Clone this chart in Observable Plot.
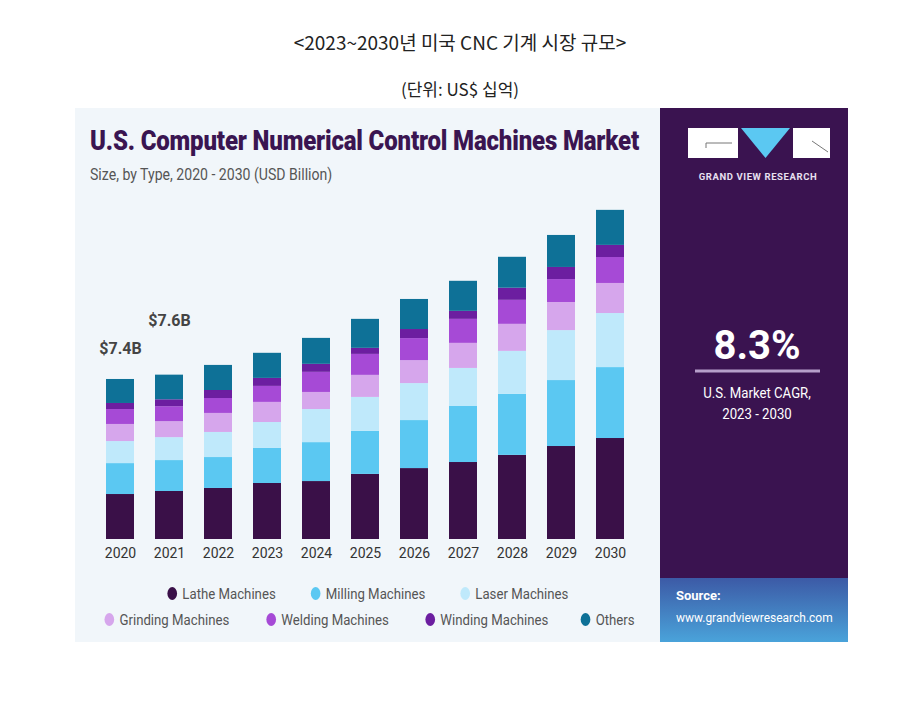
<!DOCTYPE html>
<html>
<head>
<meta charset="utf-8">
<script src="https://cdn.jsdelivr.net/npm/d3@7"></script>
<script src="https://cdn.jsdelivr.net/npm/@observablehq/plot@0.6"></script>
<style>
  html, body { margin: 0; padding: 0; background: #ffffff; }
  body { width: 903px; height: 702px; position: relative; overflow: hidden; font-family: "Noto Sans", sans-serif; }
  .abs { position: absolute; white-space: nowrap; }
  #title { left: 0; width: 920px; top: 28px; text-align: center; font-family: "Noto Sans CJK KR", sans-serif; font-size: 19px; color: #222; }
  #subtitle { left: 0; width: 920px; top: 76px; text-align: center; font-family: "Noto Sans CJK KR", sans-serif; font-size: 17px; color: #222; }
  #chart { left: 75px; top: 108px; }
  #ctitle { left: 90px; top: 125px; font-family: Roboto, sans-serif; font-weight: 900; font-size: 27px; color: #3a1551; transform-origin: left top; transform: scaleX(0.89); letter-spacing: -0.2px; }
  #csub { left: 90px; top: 165px; font-family: Roboto, sans-serif; font-size: 16px; color: #555; transform-origin: left top; transform: scaleX(0.88); }
  .legrow { left: 75px; width: 585px; text-align: center; font-family: Roboto, sans-serif; font-size: 15px; color: #555; }
  .legitem { display: inline-block; margin: 0 10px; transform: scaleX(0.88); }
  .dot { display: inline-block; width: 11px; height: 13px; border-radius: 50%; margin-right: 6px; vertical-align: -1px; }
  #side { left: 660px; top: 108px; width: 188px; height: 534px; background: #3a1350; }
  #src { left: 660px; top: 578px; width: 188px; height: 64px; background: linear-gradient(#3c5aa6, #4aa3da); }
</style>
</head>
<body>
<div id="title" class="abs">&lt;2023~2030년 미국 CNC 기계 시장 규모&gt;</div>
<div id="subtitle" class="abs">(단위: US$ 십억)</div>
<div id="chart" class="abs"></div>
<div id="ctitle" class="abs">U.S. Computer Numerical Control Machines Market</div>
<div id="csub" class="abs">Size, by Type, 2020 - 2030 (USD Billion)</div>
<div id="side" class="abs"></div>
<div id="src" class="abs"></div>
<svg class="abs" style="left:660px;top:108px" width="188" height="470">
  <rect x="28" y="20" width="50" height="30" fill="#ffffff"/>
  <polyline points="46,40 46,35 72,35" fill="none" stroke="#777" stroke-width="1"/>
  <polygon points="81,20 130,20 105.5,50" fill="#5bc8f2"/>
  <rect x="133" y="20" width="37" height="30" fill="#ffffff"/>
  <polyline points="152,33 168,44" fill="none" stroke="#777" stroke-width="1"/>
  <text x="98" y="72" text-anchor="middle" fill="#e8e0f0" font-family="Roboto, sans-serif" font-weight="700" font-size="9.5" letter-spacing="0.6">GRAND VIEW RESEARCH</text>
  <text x="97" y="251" text-anchor="middle" fill="#ffffff" font-family="Roboto, sans-serif" font-weight="700" font-size="40">8.3%</text>
  <line x1="35" x2="160" y1="263" y2="263" stroke="#b69fca" stroke-width="3"/>
  <text x="97" y="290" text-anchor="middle" fill="#ffffff" font-family="Roboto, sans-serif" font-size="15" transform="translate(97,0) scale(0.88,1) translate(-97,0)">U.S. Market CAGR,</text>
  <text x="97" y="311" text-anchor="middle" fill="#ffffff" font-family="Roboto, sans-serif" font-size="15" transform="translate(97,0) scale(0.88,1) translate(-97,0)">2023 - 2030</text>
</svg>
<div class="abs" style="left:676px;top:588px;font-family:Roboto,sans-serif;font-weight:700;font-size:13px;color:#fff;">Source:</div>
<div class="abs" style="left:676px;top:610px;font-family:Roboto,sans-serif;font-size:13px;color:#fff;transform-origin:left top;transform:scaleX(0.92);">www.grandviewresearch.com</div>
<div id="legend"></div>
<script>
const years = ["2020","2021","2022","2023","2024","2025","2026","2027","2028","2029","2030"];
const types = ["Lathe Machines","Milling Machines","Laser Machines","Grinding Machines","Welding Machines","Winding Machines","Others"];
const colors = ["#3a1048","#5bc8f2","#bfe9fb","#d6a6ec","#a64ad6","#6c1ea0","#0e7197"];
const lathe    = [2.08, 2.22, 2.36, 2.59, 2.68, 3.01, 3.28, 3.56, 3.89, 4.30, 4.67];
const milling  = [1.43, 1.43, 1.43, 1.62, 1.80, 1.99, 2.22, 2.59, 2.82, 3.05, 3.28];
const laser    = [1.02, 1.06, 1.16, 1.20, 1.53, 1.57, 1.71, 1.76, 1.99, 2.31, 2.50];
const grinding = [0.79, 0.74, 0.88, 0.93, 0.79, 1.02, 1.06, 1.16, 1.25, 1.30, 1.39];
const welding  = [0.69, 0.69, 0.69, 0.74, 0.93, 0.97, 1.02, 1.11, 1.11, 1.06, 1.20];
const winding  = [0.28, 0.32, 0.37, 0.37, 0.37, 0.28, 0.42, 0.37, 0.56, 0.56, 0.56];
const others   = [1.11, 1.14, 1.16, 1.16, 1.20, 1.34, 1.39, 1.39, 1.43, 1.48, 1.62];
const labelYears = ["2020", "2021"];
const labelTexts = ["$7.4B", "$7.6B"];

const series = [lathe, milling, laser, grinding, welding, winding, others];
const rows = [];
years.forEach((y, i) => types.forEach((t, k) => rows.push({year: y, type: t, value: series[k][i]})));
const totalOf = y => { const i = years.indexOf(y); return d3.sum(series, s => s[i]); };
const lab0 = [{year: labelYears[0], text: labelTexts[0], total: totalOf(labelYears[0])}];
const lab1 = [{year: labelYears[1], text: labelTexts[1], total: totalOf(labelYears[1])}];

const chart = Plot.plot({
  width: 585,
  height: 534,
  marginLeft: 9,
  marginRight: 14,
  marginTop: 85,
  marginBottom: 103,
  style: {background: "#f1f6fa", fontFamily: "Roboto, sans-serif", overflow: "visible"},
  x: {domain: years, paddingInner: 0.43, paddingOuter: 0.43, label: null},
  y: {domain: [0, 16], axis: null},
  color: {domain: types, range: colors},
  marks: [
    Plot.barY(rows, {x: "year", y: "value", fill: "type", order: types}),
    Plot.axisX({tickSize: 0, tickPadding: 9, fontSize: 14, fill: "#333", label: null}),
    Plot.text(lab0, {x: "year", y: "total", text: "text", dy: -31, fontSize: 16, fontWeight: 700, fill: "#444"}),
    Plot.text(lab1, {x: "year", y: "total", text: "text", dy: -54, fontSize: 16, fontWeight: 700, fill: "#444"})
  ]
});
document.getElementById("chart").appendChild(chart);

// legend
const leg = document.getElementById("legend");
const rowsDef = [{top: 585, items: types.slice(0, 3), idx: 0}, {top: 611, items: types.slice(3), idx: 3}];
rowsDef.forEach(r => {
  const div = document.createElement("div");
  div.className = "abs legrow";
  div.style.top = r.top + "px";
  r.items.forEach((t, j) => {
    const s = document.createElement("span");
    s.className = "legitem";
    s.innerHTML = `<span class="dot" style="background:${colors[r.idx + j]}"></span>${t}`;
    div.appendChild(s);
  });
  leg.appendChild(div);
});
</script>
</body>
</html>
